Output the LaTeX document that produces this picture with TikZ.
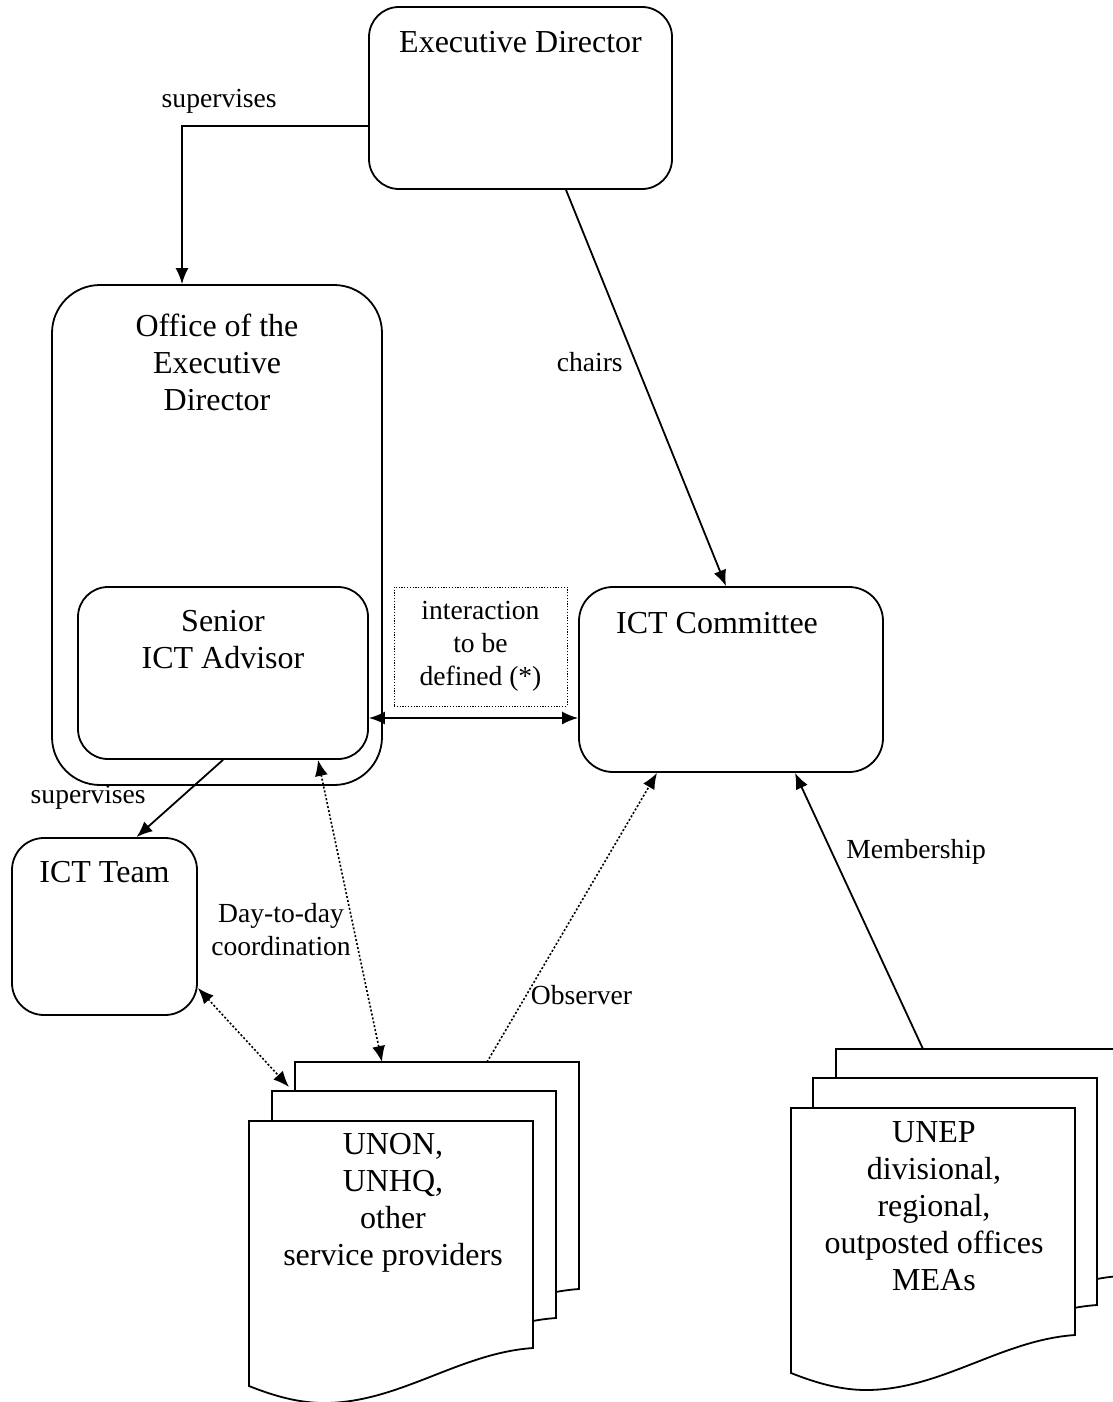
\documentclass[tikz,border=0pt]{standalone}
\usepackage{fontspec}
\setmainfont{Liberation Serif}
\usetikzlibrary{arrows.meta}

\newcommand{\docpage}[2]{%
  \begin{scope}[shift={(#1,#2)}]
    \draw[page] (0,0) -- (284,0) -- (284,227) .. controls (210,232) and (150,282) .. (75,282) .. controls (50,282) and (25,275) .. (0,265) -- cycle;
  \end{scope}}

\begin{document}
\begin{tikzpicture}[x=0.5pt,y=-0.5pt,
    big/.style={font=\fontsize{16}{18.5}\selectfont},
    small/.style={font=\fontsize{13.8}{16.5}\selectfont, inner sep=0pt},
    rbox/.style={draw, line width=0.9pt, fill=white, inner sep=0pt},
    page/.style={draw, line width=0.9pt, fill=white},
    arr/.style={line width=0.9pt, -{Latex[length=8pt,width=6.5pt]}},
    dblarr/.style={line width=0.9pt, {Latex[length=8pt,width=6.5pt]}-{Latex[length=8pt,width=6.5pt]}},
    dotarr/.style={line width=0.8pt, dash pattern=on 1pt off 1pt, -{Latex[length=8pt,width=6.5pt]}},
    dotdbl/.style={line width=0.8pt, dash pattern=on 1pt off 1pt, {Latex[length=8pt,width=6.5pt]}-{Latex[length=8pt,width=6.5pt]}}]
  \useasboundingbox (0,0) rectangle (1113,1402);

  % boxes
  \node[rbox, minimum width=151.5pt, minimum height=91pt, rounded corners=15pt,
    label={[big, anchor=center, yshift=-18pt]north:Executive Director}] (ed) at (520.5,98) {};
  \node[rbox, minimum width=165pt, minimum height=250pt, rounded corners=24pt,
    label={[big, align=center, anchor=center, yshift=-39pt]north:Office of the\\Executive\\Director}] (office) at (217,535) {};
  \node[rbox, minimum width=145pt, minimum height=86pt, rounded corners=15pt,
    label={[big, align=center, anchor=center, yshift=-26.75pt]north:Senior\\ICT Advisor}] (senior) at (223,673) {};
  \node[rbox, minimum width=152pt, minimum height=92.5pt, rounded corners=17pt,
    label={[big, anchor=center, xshift=-7pt, yshift=-18.5pt]north:ICT Committee}] (committee) at (731,679.5) {};
  \node[rbox, minimum width=92.5pt, minimum height=88.5pt, rounded corners=16pt,
    label={[big, anchor=center, yshift=-17.5pt]north:ICT Team}] (team) at (104.5,926.5) {};
  \node[small, draw, line width=0.5pt, dash pattern=on 0.6pt off 0.8pt, align=center,
    minimum width=86.5pt, minimum height=59.5pt] (iact) at (480.5,646.5) {interaction\\to be\\defined (*)};

  % document stacks
  \docpage{295}{1062}
  \docpage{272}{1091}
  \docpage{249}{1121}
  \node[big, align=center] (unon) at (393,1203) {UNON,\\UNHQ,\\other\\service providers};
  \docpage{836}{1049}
  \docpage{813}{1078}
  \docpage{791}{1108}
  \node[big, align=center] (unep) at (934,1206) {UNEP\\divisional,\\regional,\\outposted offices\\MEAs};

  \coordinate (unonA) at (382,1062);
  \coordinate (unonB) at (487,1062);
  \coordinate (unonC) at (289,1087);
  \coordinate (unepA) at (923,1049);

  % connectors
  \draw[arr] ([yshift=-14pt]ed.west) -| ([xshift=-17.5pt]office.north)
    node[small, pos=0.4, above=6pt] (lsup1) {supervises};
  \draw[arr] ([xshift=22.75pt]ed.south) -- ([xshift=-2.5pt]committee.north)
    node[small, pos=0.435, left=6pt] (lchairs) {chairs};
  \coordinate (ia) at ([yshift=-22.5pt]senior.east);
  \draw[dblarr] (ia) -- (ia -| committee.west);
  \draw[arr] (senior.south) -- ([xshift=16pt]team.north)
    node[small, pos=0.49, left=17pt] (lsup2) {supervises};
  \draw[dotdbl] ([xshift=47.5pt]senior.south) -- (unonA);
  \draw[dotdbl] ([yshift=-30.75pt]team.east) -- (unonC);
  \node[small, align=center] (lday) at (281,930) {Day-to-day\\coordination};
  \draw[dotarr] (unonB) -- ([xshift=-37pt]committee.south)
    node[small, pos=0.23, right=2pt] (lobs) {Observer};
  \draw[arr] (unepA) -- ([xshift=32pt]committee.south)
    node[small, pos=0.715, right=7pt] (lmem) {Membership};
\end{tikzpicture}
\end{document}
